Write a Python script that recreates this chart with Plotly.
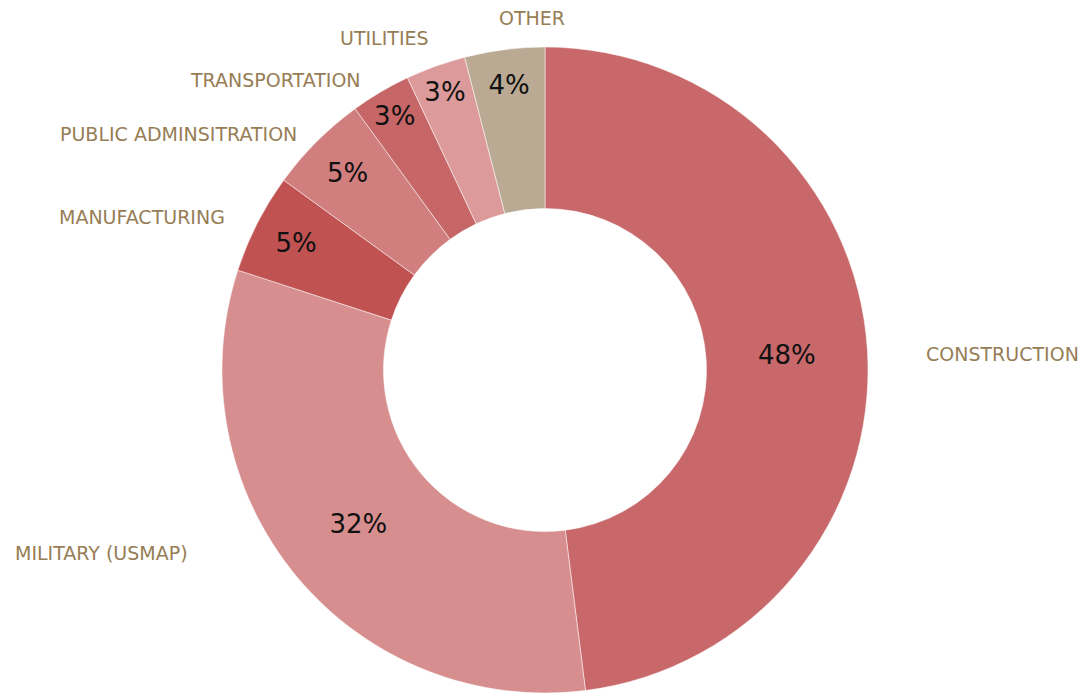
import plotly.graph_objects as go

categories = ["CONSTRUCTION", "MILITARY (USMAP)", "MANUFACTURING", "PUBLIC ADMINSITRATION",
              "TRANSPORTATION", "UTILITIES", "OTHER"]
values = [48, 32, 5, 5, 3, 3, 4]
colors = ["#C8686A", "#D78E8E", "#C05252", "#D17E7E", "#C76666", "#DC9A9A", "#BAAA94"]

# label anchor positions in pixel space (layout only)
label_pos = {
    "CONSTRUCTION": (1002, 354),
    "MILITARY (USMAP)": (101, 553),
    "MANUFACTURING": (142, 217),
    "PUBLIC ADMINSITRATION": (178, 134),
    "TRANSPORTATION": (275, 80),
    "UTILITIES": (385, 38),
    "OTHER": (532, 18),
}

W, H = 1080, 693
cx, cy, r = 545, 370, 323

fig = go.Figure(go.Pie(
    labels=categories,
    values=values,
    sort=False,
    direction="clockwise",
    rotation=0,
    hole=0.5,
    marker=dict(colors=colors, line=dict(color="white", width=0.5)),
    texttemplate="%{percent:.0%}",
    textposition="inside",
    insidetextorientation="horizontal",
    textfont=dict(family="DejaVu Sans", size=26, color="#111111"),
    showlegend=False,
    hoverinfo="label+percent",
    domain=dict(x=[(cx - r) / W, (cx + r) / W], y=[1 - (cy + r) / H, 1 - (cy - r) / H]),
))

for name in categories:
    px, py = label_pos[name]
    fig.add_annotation(
        x=px / W, y=1 - py / H, xref="paper", yref="paper",
        text=name, showarrow=False, xanchor="center", yanchor="middle",
        font=dict(family="DejaVu Sans", size=19, color="#967D55"),
    )

fig.update_layout(
    width=W, height=H,
    margin=dict(l=0, r=0, t=0, b=0),
    paper_bgcolor="white", plot_bgcolor="white",
    uniformtext=dict(minsize=26, mode="show"),
)

fig.write_html(
    "out.html",
    config={"displayModeBar": False},
    post_script="document.body.style.margin='0';document.body.style.overflow='hidden';",
)
